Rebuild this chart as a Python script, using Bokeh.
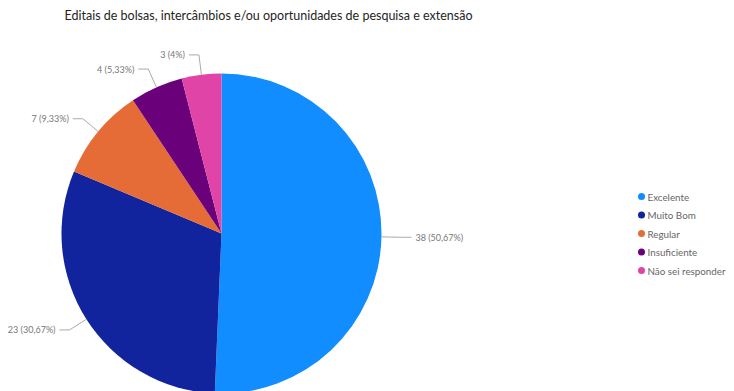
import math
from bokeh.plotting import figure
from bokeh.models import Range1d, ColumnDataSource
from bokeh.core.properties import value
from bokeh.embed import file_html
from bokeh.resources import INLINE

title_text = "Editais de bolsas, intercâmbios e/ou oportunidades de pesquisa e extensão"
categories = ["Excelente", "Muito Bom", "Regular", "Insuficiente", "Não sei responder"]
counts = [38, 23, 7, 4, 3]
colors = ["#118DFF", "#12239E", "#E66C37", "#6B007B", "#E044A7"]

W, H = 734, 391
p = figure(width=W, height=H, output_backend="svg", toolbar_location=None,
           x_range=Range1d(0, W), y_range=Range1d(391 - H, 391),
           min_border=0, outline_line_color=None)
p.axis.visible = False
p.grid.visible = False

FONT = "Lato"
total = sum(counts)
cx, cy, R = 221, 391 - 233, 160

def fmt_pct(v):
    s = f"{v:.2f}".rstrip("0").rstrip(".")
    return s.replace(".", ",")

starts, ends, mids = [], [], []
cum = 0
for c in counts:
    a0 = math.pi / 2 - 2 * math.pi * cum / total
    cum += c
    a1 = math.pi / 2 - 2 * math.pi * cum / total
    starts.append(a0)
    ends.append(a1)
    mids.append((a0 + a1) / 2)

src = ColumnDataSource(dict(start=starts, end=ends, color=colors))
p.wedge(x=cx, y=cy, radius=R, radius_units="screen", start_angle="start", end_angle="end",
        direction="clock", fill_color="color", line_color=None, source=src)

# leader lines and data labels
L, HSEG, GAP = 20, 10, 4
for c, m in zip(counts, mids):
    ex, ey = cx + R * math.cos(m), cy + R * math.sin(m)
    bx, by = cx + (R + L) * math.cos(m), cy + (R + L) * math.sin(m)
    side = 1 if math.cos(m) >= 0 else -1
    hx = bx + side * HSEG
    p.line([ex, bx, hx], [ey, by, by], line_color="#AAAAAA", line_width=1)
    lbl = f"{c} ({fmt_pct(100 * c / total)}%)"
    p.text([hx + side * GAP], [by], text=[lbl], text_font=value(FONT), text_font_size="9px",
           text_color="#777777", text_baseline="middle",
           text_align="left" if side > 0 else "right")

# title
p.text([64], [391 - 15], text=[title_text], text_font=value(FONT), text_font_size="12.5px",
       text_color="#252423", text_baseline="middle", text_align="left")

# legend
lx, ly0, dy = 641, 196, 18.5
for i, (cat, col) in enumerate(zip(categories, colors)):
    y = 391 - (ly0 + i * dy)
    p.scatter([lx], [y], size=7, fill_color=col, line_color=None)
    p.text([lx + 6], [y], text=[cat], text_font=value(FONT), text_font_size="9.8px",
           text_color="#666666", text_baseline="middle", text_align="left")

open("out.html", "w").write(file_html(p, INLINE))
